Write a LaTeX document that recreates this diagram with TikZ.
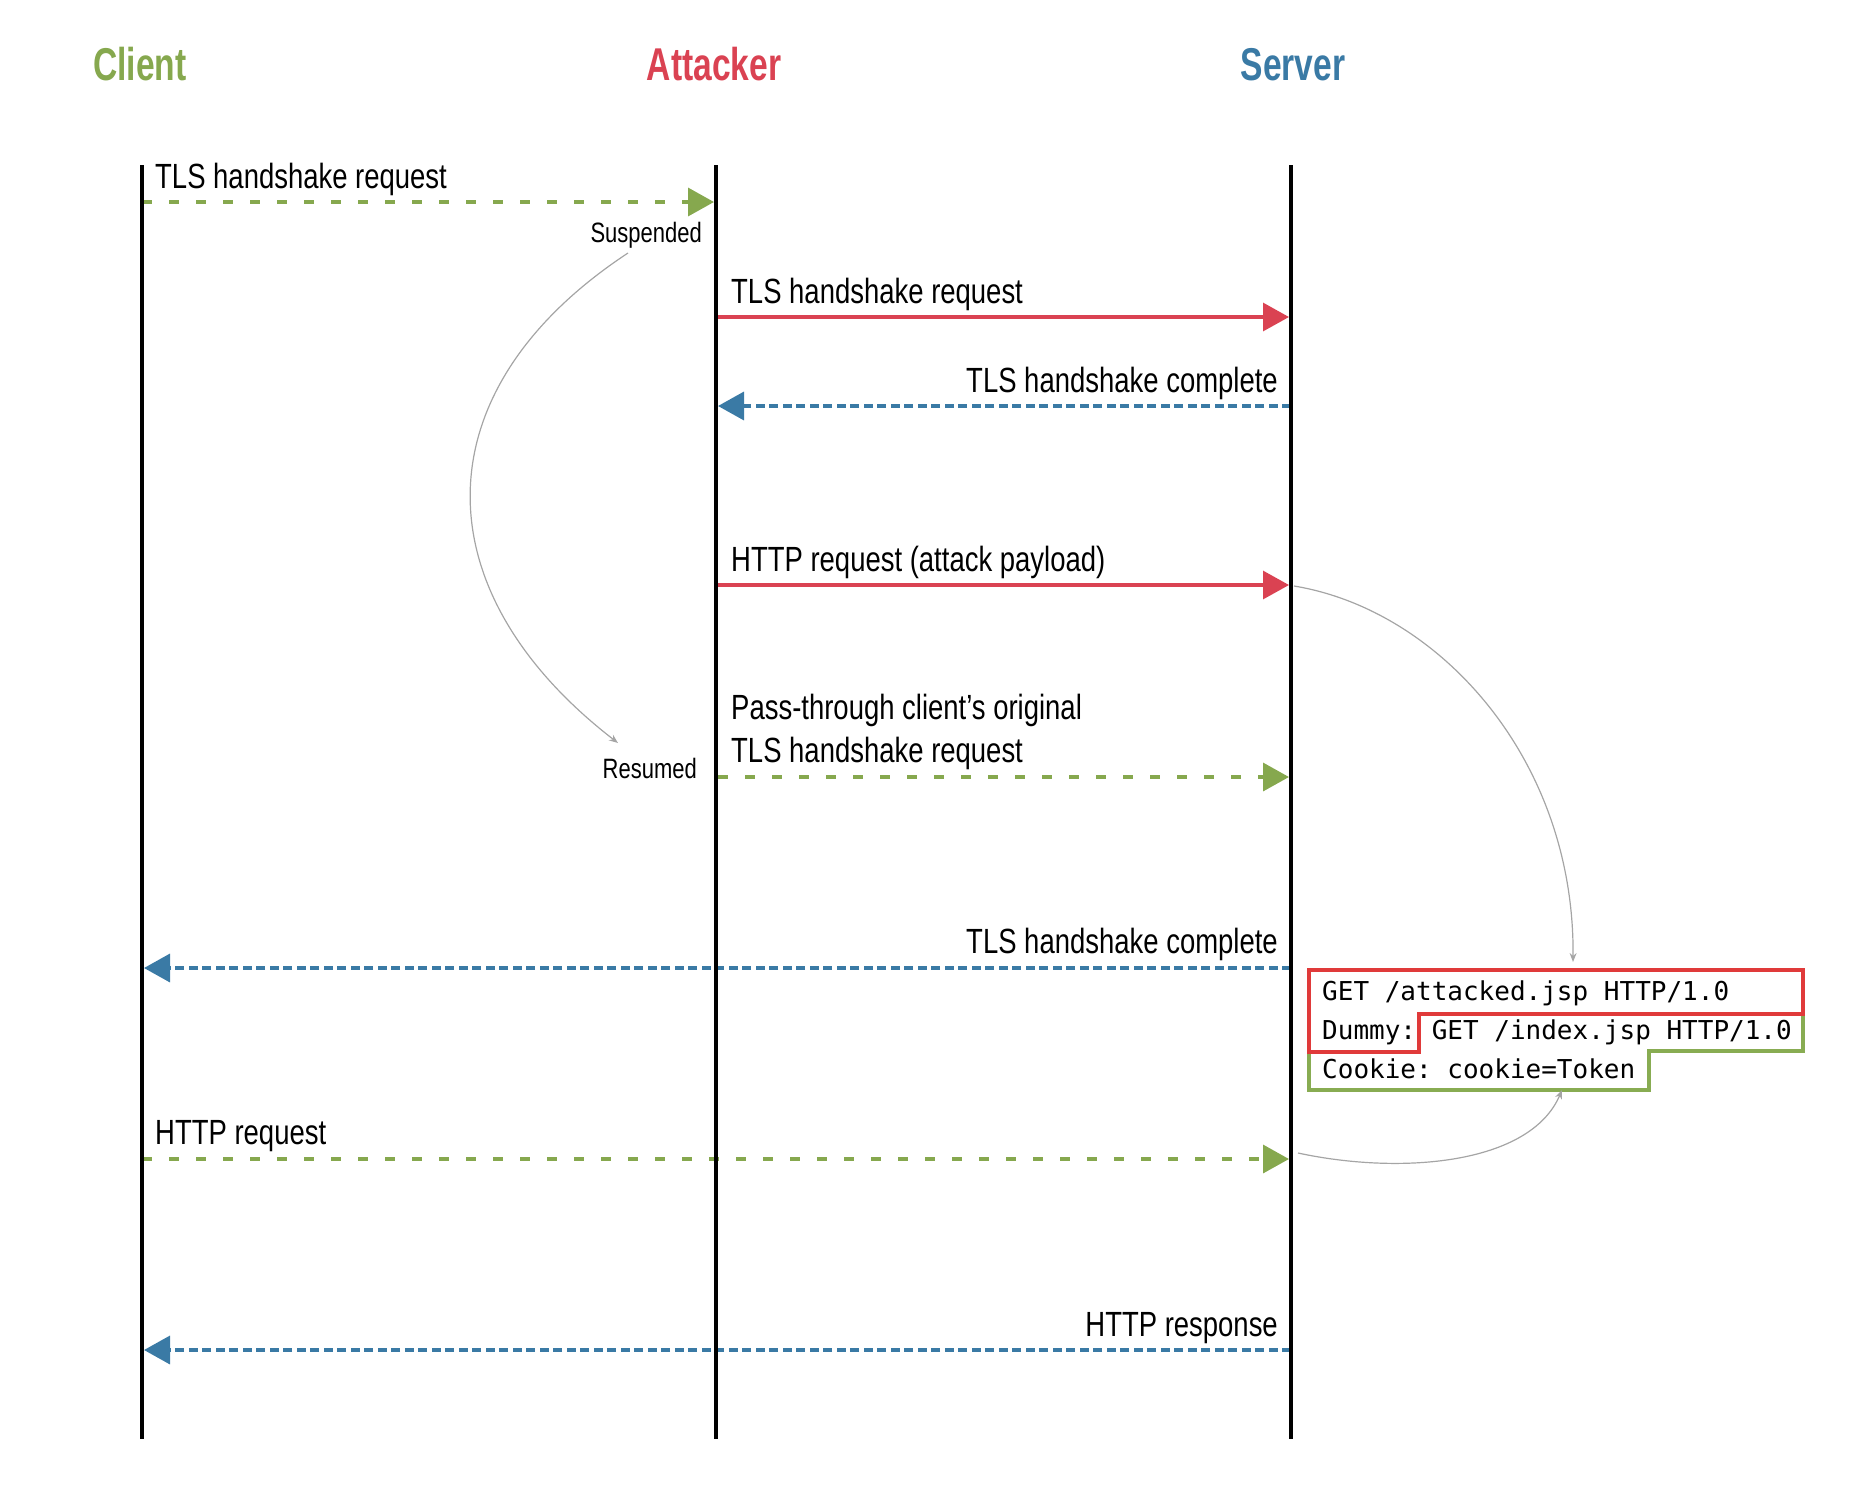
\documentclass[tikz,border=0pt]{standalone}
\usepackage{fontspec}
\setmainfont[FakeStretch=0.785]{Liberation Sans}
\setmonofont{DejaVu Sans Mono}
\newfontfamily\actorfont[FakeStretch=0.73]{Liberation Sans}
\usetikzlibrary{arrows.meta, calc}
\definecolor{cligreen}{RGB}{134,168,78}
\definecolor{attred}{RGB}{218,66,82}
\definecolor{srvblue}{RGB}{58,122,165}
\definecolor{boxred}{RGB}{224,58,58}
\definecolor{boxgreen}{RGB}{136,172,82}
\definecolor{notegray}{RGB}{165,165,165}
\tikzset{
  actor/.style={font=\actorfont\bfseries\fontsize{46}{52}\selectfont,
    anchor=base, inner sep=0pt},
  lifeline/.style={line width=4pt, black},
  msglabel/.style={font=\fontsize{35}{43}\selectfont, inner sep=0pt, align=left},
  smalllabel/.style={font=\fontsize{28}{32}\selectfont, inner sep=0pt},
  payload/.style={font=\ttfamily\fontsize{26}{39}\selectfont, inner sep=0pt,
    align=left},
  tip/.style={-{Triangle[length=26pt, width=28pt]}},
  greenmsg/.style={tip, cligreen, line width=3.5pt, dash pattern=on 10pt off 17pt},
  redmsg/.style={tip, attred, line width=3.2pt},
  bluemsg/.style={tip, srvblue, line width=3.5pt, dash pattern=on 9pt off 4.5pt},
  note/.style={notegray, line width=1.2pt, -{Stealth[length=9pt, width=7pt]}}
}
\begin{document}
\begin{tikzpicture}[x=1pt, y=-1pt]
  \useasboundingbox (0,0) rectangle (1872,1500);
  % Actors
  \node[actor, cligreen] (client) at (140,80) {Client};
  \node[actor, attred] (attacker) at (714,80) {Attacker};
  \node[actor, srvblue] (server) at (1293,80) {Server};
  % Lifelines
  \coordinate (ctop) at (142,165); \coordinate (cbot) at (142,1439);
  \coordinate (atop) at (716,165); \coordinate (abot) at (716,1439);
  \coordinate (stop) at (1291,165); \coordinate (sbot) at (1291,1439);
  % Client -> Attacker: first handshake (suspended)
  \coordinate (m1s) at (142,202); \coordinate (m1e) at (714,202);
  \draw[greenmsg] (m1s) -- (m1e);
  \node[msglabel, anchor=base west] (l1) at (155,188) {TLS handshake request};
  \node[smalllabel, anchor=base east] (susp) at (702,242) {Suspended};
  % Attacker <-> Server handshake
  \coordinate (m2s) at (718,317); \coordinate (m2e) at (1289,317);
  \draw[redmsg] (m2s) -- (m2e);
  \node[msglabel, anchor=base west] (l2) at (731,303) {TLS handshake request};
  \coordinate (m3s) at (1291,406); \coordinate (m3e) at (718,406);
  \draw[bluemsg] (m3s) -- (m3e);
  \node[msglabel, anchor=base east] (l3) at (1278,392) {TLS handshake complete};
  % Attack payload
  \coordinate (m4s) at (718,585); \coordinate (m4e) at (1289,585);
  \draw[redmsg] (m4s) -- (m4e);
  \node[msglabel, anchor=base west] (l4) at (731,571) {HTTP request (attack payload)};
  % Pass-through of the original handshake (resumed)
  \coordinate (m5s) at (718,777); \coordinate (m5e) at (1289,777);
  \draw[greenmsg] (m5s) -- (m5e);
  \node[msglabel, anchor=base west] (l5) at (731,762)
    {Pass-through client’s original\\TLS handshake request};
  \node[smalllabel, anchor=base east] (resumed) at (697,778) {Resumed};
  % Server -> Client
  \coordinate (m6s) at (1291,968); \coordinate (m6e) at (144,968);
  \draw[bluemsg] (m6s) -- (m6e);
  \node[msglabel, anchor=base east] (l6) at (1278,953) {TLS handshake complete};
  \coordinate (m7s) at (142,1159); \coordinate (m7e) at (1289,1159);
  \draw[greenmsg] (m7s) -- (m7e);
  \node[msglabel, anchor=base west] (l7) at (155,1144) {HTTP request};
  \coordinate (m8s) at (1291,1350); \coordinate (m8e) at (144,1350);
  \draw[bluemsg] (m8s) -- (m8e);
  \node[msglabel, anchor=base east] (l8) at (1278,1336) {HTTP response};
  % Lifelines on top
  \draw[lifeline] (ctop) -- (cbot);
  \draw[lifeline] (atop) -- (abot);
  \draw[lifeline] (stop) -- (sbot);
  % Concatenated request seen by the server
  \draw[boxgreen, line width=4.5pt] (1419,1014) -- (1803,1014) -- (1803,1051)
    -- (1649,1051) -- (1649,1090) -- (1309,1090) -- (1309,1052) -- (1419,1052) -- cycle;
  \draw[boxred, line width=4.5pt] (1309,970) -- (1803,970) -- (1803,1014)
    -- (1419,1014) -- (1419,1052) -- (1309,1052) -- cycle;
  \node[payload, anchor=base west] (req) at (1322,1078)
    {GET /attacked.jsp HTTP/1.0\\Dummy: GET /index.jsp HTTP/1.0\\Cookie: cookie=Token};
  % Notes
  \coordinate (n1s) at (628,253); \coordinate (n1e) at (618,743);
  \draw[note] (n1s) .. controls (420,390) and (420,590) .. (n1e);
  \coordinate (n2s) at (1294,586); \coordinate (n2e) at (1573,962);
  \draw[note] (n2s) .. controls (1440,610) and (1575,760) .. (n2e);
  \coordinate (n3s) at (1298,1153); \coordinate (n3e) at (1562,1090);
  \draw[note] (n3s) .. controls (1400,1175) and (1530,1165) .. (n3e);
\end{tikzpicture}
\end{document}
